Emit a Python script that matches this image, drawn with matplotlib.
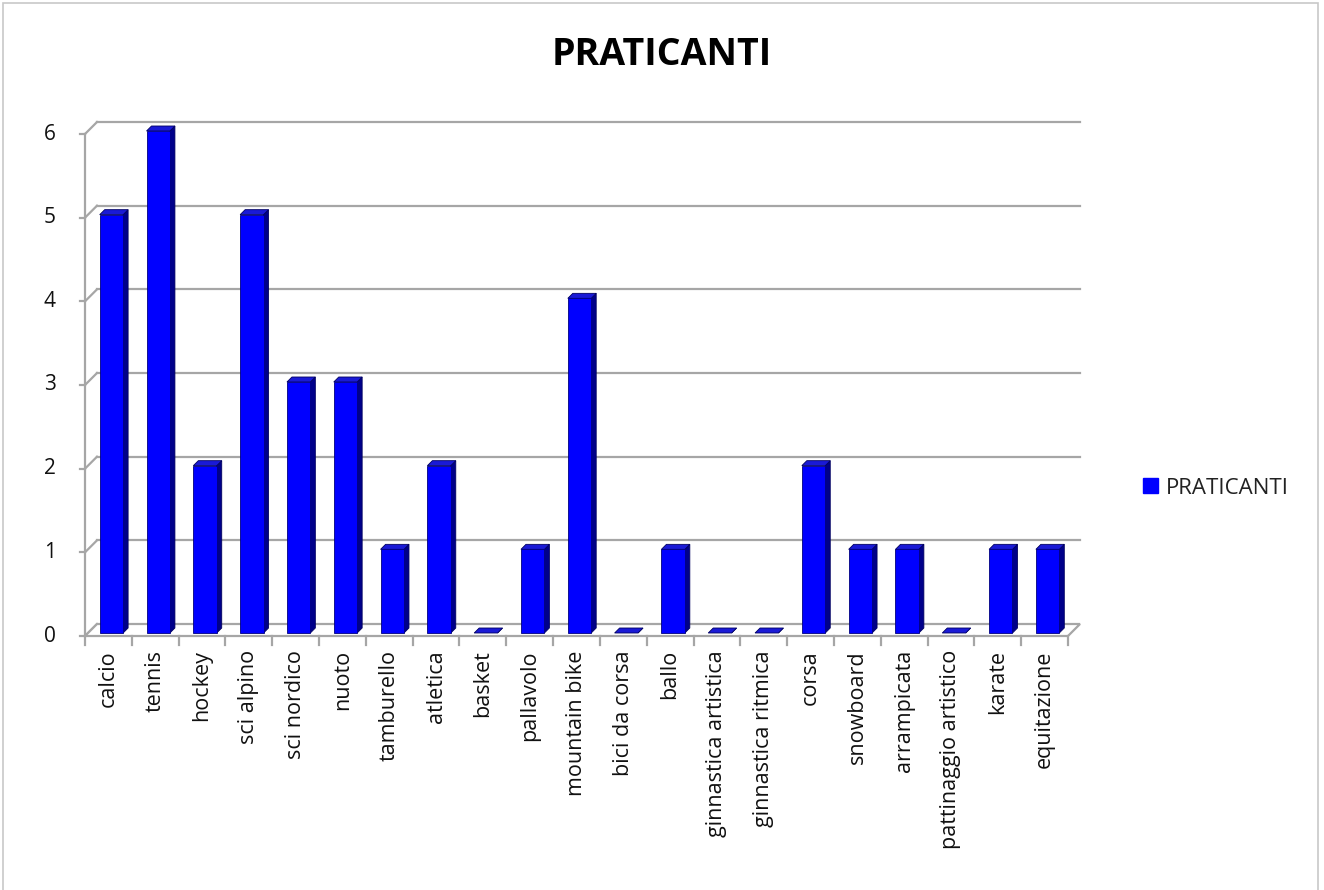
import matplotlib
matplotlib.use("Agg")
import matplotlib.pyplot as plt
from matplotlib.patches import Polygon, Patch, Rectangle
import numpy as np

plt.rcParams["font.family"] = ["Open Sans", "DejaVu Sans"]

sports = ["calcio", "tennis", "hockey", "sci alpino", "sci nordico", "nuoto",
          "tamburello", "atletica", "basket", "pallavolo", "mountain bike",
          "bici da corsa", "ballo", "ginnastica artistica", "ginnastica ritmica",
          "corsa", "snowboard", "arrampicata", "pattinaggio artistico",
          "karate", "equitazione"]
praticanti = [5, 6, 2, 5, 3, 3, 1, 2, 0, 1, 4, 0, 1, 0, 0, 2, 1, 1, 0, 1, 1]
yticks = [0, 1, 2, 3, 4, 5, 6]

W, H = 1324, 890
fig = plt.figure(figsize=(W / 100, H / 100), dpi=100)
# plot area = front plane of the 3d box
left, right, bottom, top = 85, 1068, 636, 134
ax = fig.add_axes([left / W, 1 - bottom / H, (right - left) / W, (bottom - top) / H])
n = len(sports)
ax.set_xlim(-0.5, n - 0.5)
ax.set_ylim(0, 6)
ax.axis("off")

# pixel -> data unit conversions for the fake depth
px_x = (right - left) / n
px_y = (bottom - top) / 6.0
def off(px):
    return px / px_x, px / px_y

grid_c = "#a6a6a6"
lw = 1.6
wx, wy = off(12)   # back wall
x0, x1 = -0.5, n - 0.5

# back wall gridlines + diagonals on side wall
for v in yticks:
    if v > 0:
        ax.plot([x0 + wx, x1 + wx], [v + wy, v + wy], color=grid_c, lw=lw, clip_on=False, zorder=1)
    ax.plot([x0, x0 + wx], [v, v + wy], color=grid_c, lw=lw, clip_on=False, zorder=1)
    ax.plot([x0 - 0.1, x0], [v, v], color=grid_c, lw=lw, clip_on=False, zorder=1)
    ax.text(x0 - 0.75, v, str(v), ha="center", va="center", fontsize=15, color="#111111")

# left axis
ax.plot([x0, x0], [0, 6], color=grid_c, lw=lw, clip_on=False, zorder=1)
# floor
floor = Polygon([[x0, 0], [x1, 0], [x1 + wx, wy], [x0 + wx, wy]], closed=True,
                facecolor="white", edgecolor=grid_c, lw=lw, clip_on=False, zorder=1)
ax.add_patch(floor)
# category ticks
for k in range(n + 1):
    ax.plot([x0 + k, x0 + k], [0, -0.11], color=grid_c, lw=lw, clip_on=False, zorder=1)

# 3d bars
fx, fy = off(3)
bx, by = off(8)
bw = 0.5
for i, v in enumerate(praticanti):
    xl = i - bw / 2 + fx
    xr = i + bw / 2 + fx
    yb, yt = fy, v + fy
    side = Polygon([[xr, yb], [xr + bx - fx, yb + by - fy], [xr + bx - fx, yt + by - fy], [xr, yt]],
                   closed=True, facecolor="#00008a", edgecolor="#000060", lw=0.6, clip_on=False, zorder=3)
    topf = Polygon([[xl, yt], [xr, yt], [xr + bx - fx, yt + by - fy], [xl + bx - fx, yt + by - fy]],
                   closed=True, facecolor="#1a1ad6", edgecolor="#000060", lw=0.6, clip_on=False, zorder=3)
    ax.add_patch(side)
    ax.add_patch(topf)
    if v > 0:
        ax.add_patch(Rectangle((xl, yb), xr - xl, v, facecolor="#0000ff",
                               edgecolor="#000080", lw=0.6, clip_on=False, zorder=4))

# category labels
for i, s in enumerate(sports):
    ax.text(i, -0.17, s, rotation=90, ha="center", va="top", fontsize=15.5, color="#111111")

fig.text(662 / W, 1 - 55 / H, "PRATICANTI", ha="center", va="center",
         fontsize=27, fontweight="bold", color="#000000")

fig.legend(handles=[Patch(facecolor="#0000ff", edgecolor="#0000ff", label="PRATICANTI")],
           loc="center left", bbox_to_anchor=(1143 / W, 1 - 488 / H), frameon=False,
           fontsize=16, handlelength=0.68, handleheight=0.68, handletextpad=0.36,
           borderpad=0, borderaxespad=0, labelcolor="#222222")

# chart border
fig.patches.append(Rectangle((3 / W, -0.01), (W - 9) / W, 1 - 3 / H + 0.01,
                             transform=fig.transFigure, fill=False,
                             edgecolor="#c8c8c8", lw=1.2))

fig.savefig("out.png", dpi=100)
